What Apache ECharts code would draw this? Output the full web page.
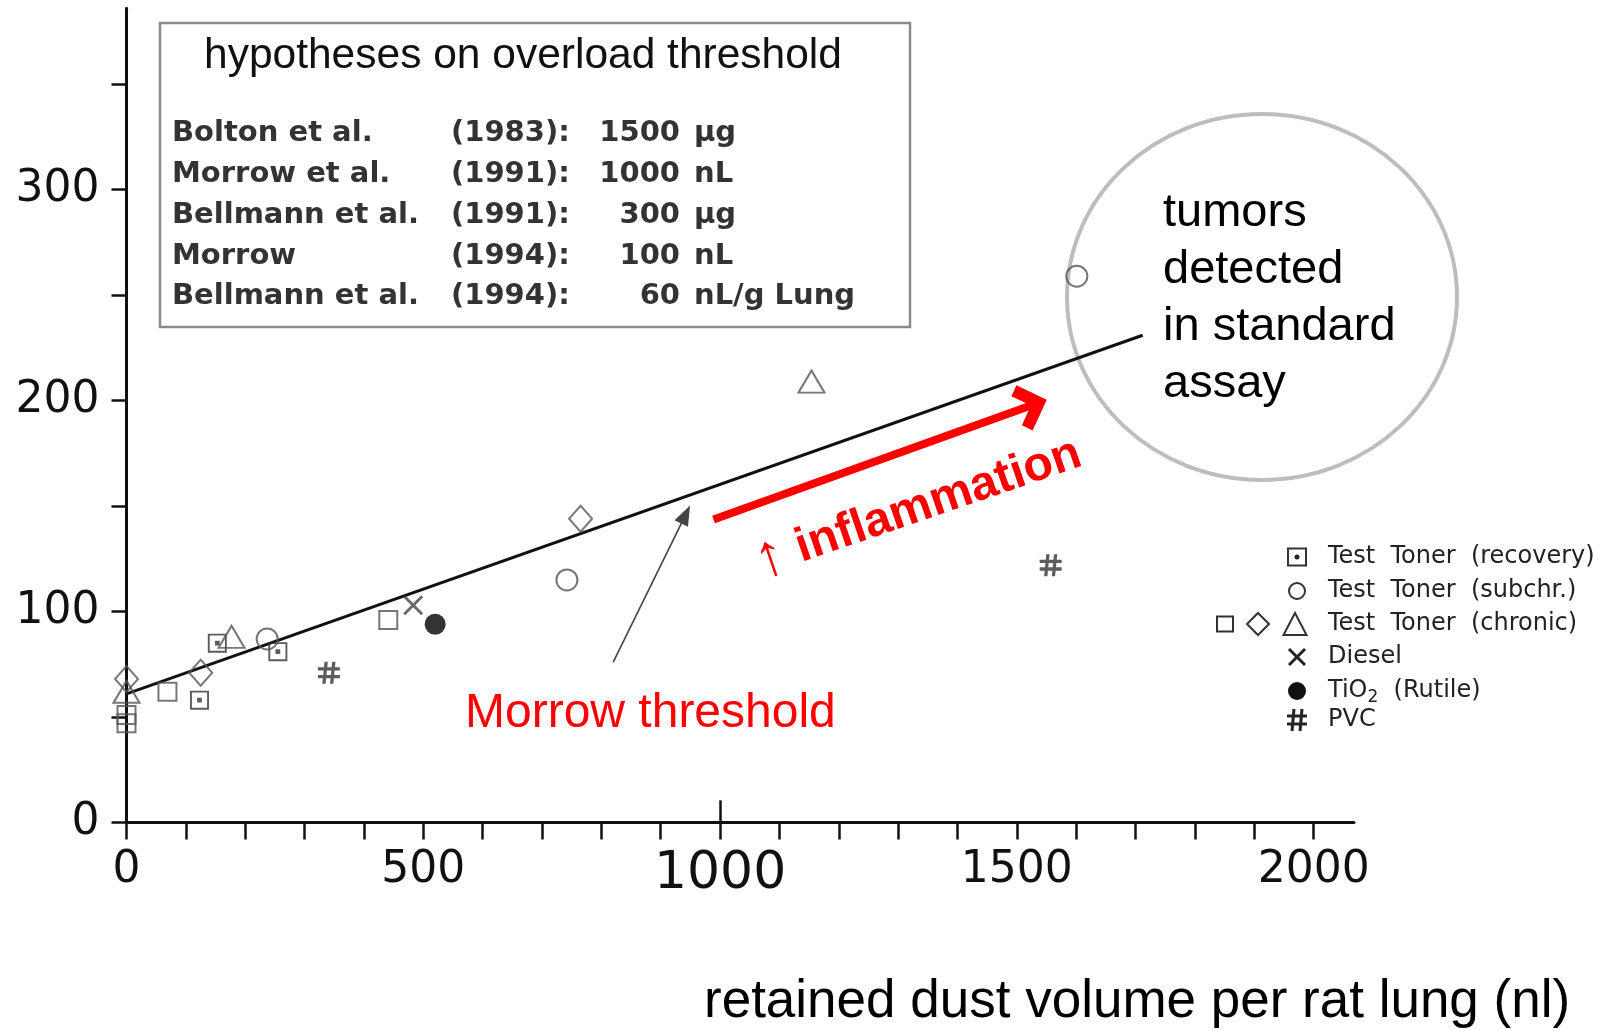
<!DOCTYPE html>
<html>
<head>
<meta charset="utf-8">
<title>overload threshold</title>
<script src="https://cdn.jsdelivr.net/npm/echarts@6.0.0/dist/echarts.min.js"></script>
<style>
  html, body { margin: 0; padding: 0; background: #fff; }
  #chart { width: 1616px; height: 1030px; }
</style>
</head>
<body>
<div id="chart"></div>
<script>
// values (x = retained dust volume per lung, nl)
const fitLine = [[0, 61], [1712, 231]];
const recoveryPts = [[123, 58], [153, 85], [255, 81]];
const subchronicPts = [[237, 87], [742, 115], [1601, 259]];
const chronicSquares = [[0, 51], [0, 47], [69, 62], [441, 96]];
const chronicDiamonds = [[0, 68], [125, 71], [765, 144]];
const chronicTriangles = [[0, 62], [177, 88], [1154, 209]];
const dieselPts = [[483, 103]];
const tio2Pts = [[520, 94]];
const pvcPts = [[341, 71], [1557, 122]];

// annotation arrows, in data units
const morrowArrow = [[820, 76], [942, 146]];
const inflammationArrow = [[989, 143.6], [1525, 197.8]];

const xTicks = [0, 100, 200, 300, 400, 500, 600, 700, 800, 900, 1000, 1100, 1200, 1300, 1400, 1500, 1600, 1700, 1800, 1900, 2000];
const xLabels = [0, 500, 1000, 1500, 2000];
const yTicks = [0, 50, 100, 150, 200, 250, 300, 350];
const yLabels = [0, 100, 200, 300];

const hypNames = ['Bolton et al.', 'Morrow et al.', 'Bellmann et al.', 'Morrow', 'Bellmann et al.'];
const hypYears = ['(1983):', '(1991):', '(1991):', '(1994):', '(1994):'];
const hypValues = ['1500', '1000', '300', '100', '60'];
const hypUnits = ['µg', 'nL', 'µg', 'nL', 'nL/g Lung'];

const legendRows = [
  { label: '{n|Test  Toner  (recovery)}', icons: ['recovery'] },
  { label: '{n|Test  Toner  (subchr.)}', icons: ['circle'] },
  { label: '{n|Test  Toner  (chronic)}', icons: ['square', 'diamond', 'triangle'] },
  { label: '{n|Diesel}', icons: ['cross'] },
  { label: '{n|TiO}{s|2}{n|  (Rutile)}', icons: ['dot'] },
  { label: '{n|PVC}', icons: ['hash'] }
];

const INK = '#111';
const MARK = '#555';
const RECOVERY_PATH = 'path://M0,0 L20,0 L20,20 L0,20 Z M2,2 L2,18 L18,18 L18,2 Z M7.5,7.5 L12.5,7.5 L12.5,12.5 L7.5,12.5 Z';
const CROSS_PATH = 'path://M2,0 L10,8 L18,0 L20,2 L12,10 L20,18 L18,20 L10,12 L2,20 L0,18 L8,10 L0,2 Z';
const HASH_PATH = 'path://M6,0 L9,0 L7,20 L4,20 Z M13,0 L16,0 L14,20 L11,20 Z M0,5 L20,5 L20,8 L0,8 Z M0,12 L20,12 L20,15 L0,15 Z';
const CHEVRON_PATH = 'path://M0,14 L14,0 L28,14 L23,19 L14,10 L5,19 Z';

const chart = echarts.init(document.getElementById('chart'));

function openStyle(w) {
  return { color: 'rgba(0,0,0,0)', borderColor: MARK, borderWidth: w || 2 };
}

function scatter(name, data, symbol, size, itemStyle) {
  return {
    name: name, type: 'scatter', data: data, symbol: symbol, symbolSize: size,
    itemStyle: itemStyle, z: 3, silent: true
  };
}

// legend drawn by hand: one row carries three symbols
function legendIcon(kind, cx, cy) {
  const st = { fill: 'none', stroke: '#333', lineWidth: 2 };
  switch (kind) {
    case 'recovery':
      return [
        { type: 'rect', shape: { x: cx - 9, y: cy - 8.5, width: 18, height: 17 }, style: st },
        { type: 'circle', shape: { cx: cx, cy: cy, r: 2.5 }, style: { fill: '#222' } }
      ];
    case 'circle':
      return [{ type: 'circle', shape: { cx: cx, cy: cy, r: 8 }, style: st }];
    case 'square':
      return [{ type: 'rect', shape: { x: cx - 8, y: cy - 7.5, width: 16, height: 15 }, style: st }];
    case 'diamond':
      return [{ type: 'polygon', shape: { points: [[cx, cy - 11], [cx + 11, cy], [cx, cy + 11], [cx - 11, cy]] }, style: st }];
    case 'triangle':
      return [{ type: 'polygon', shape: { points: [[cx, cy - 11], [cx + 11.5, cy + 11], [cx - 11.5, cy + 11]] }, style: st }];
    case 'cross':
      return [
        { type: 'line', shape: { x1: cx - 8, y1: cy - 8, x2: cx + 8, y2: cy + 8 }, style: { stroke: '#222', lineWidth: 3 } },
        { type: 'line', shape: { x1: cx + 8, y1: cy - 8, x2: cx - 8, y2: cy + 8 }, style: { stroke: '#222', lineWidth: 3 } }
      ];
    case 'dot':
      return [{ type: 'circle', shape: { cx: cx, cy: cy, r: 9 }, style: { fill: '#111' } }];
    case 'hash':
      return [
        { type: 'line', shape: { x1: cx - 3, y1: cy - 11, x2: cx - 5, y2: cy + 11 }, style: { stroke: '#222', lineWidth: 3 } },
        { type: 'line', shape: { x1: cx + 5, y1: cy - 11, x2: cx + 3, y2: cy + 11 }, style: { stroke: '#222', lineWidth: 3 } },
        { type: 'line', shape: { x1: cx - 10, y1: cy - 4, x2: cx + 10, y2: cy - 4 }, style: { stroke: '#222', lineWidth: 3 } },
        { type: 'line', shape: { x1: cx - 10, y1: cy + 4, x2: cx + 10, y2: cy + 4 }, style: { stroke: '#222', lineWidth: 3 } }
      ];
  }
  return [];
}

function buildLegend() {
  const rowY = [557, 591, 624, 657, 691, 720];
  const out = [];
  legendRows.forEach(function (row, i) {
    const y = rowY[i];
    const xs = row.icons.length === 3 ? [1225, 1258, 1295] : [1297];
    row.icons.forEach(function (k, j) {
      legendIcon(k, xs[j], y).forEach(function (e) { out.push(e); });
    });
    out.push({
      type: 'text', x: 1328, y: y,
      style: {
        text: row.label, align: 'left', verticalAlign: 'middle', fill: '#222',
        rich: {
          n: { fontFamily: 'DejaVu Sans', fontSize: 24, lineHeight: 30, fill: '#222' },
          s: { fontFamily: 'DejaVu Sans', fontSize: 17, lineHeight: 17, verticalAlign: 'bottom', fill: '#222' }
        }
      }
    });
  });
  return out;
}

function buildBox() {
  const out = [
    { type: 'rect', shape: { x: 160, y: 23, width: 750, height: 304 },
      style: { fill: '#fff', stroke: '#8a8a8a', lineWidth: 2.5 }, z: 1 },
    { type: 'text', x: 204, y: 56, z: 2,
      style: { text: 'hypotheses on overload threshold', fontFamily: 'Liberation Sans', fontSize: 42.5,
        fill: INK, align: 'left', verticalAlign: 'middle' } }
  ];
  const rowY = [133, 174, 215, 256, 296];
  const font = { fontFamily: 'DejaVu Sans', fontWeight: 'bold', fontSize: 29, fill: '#333', verticalAlign: 'middle' };
  hypNames.forEach(function (nm, i) {
    const y = rowY[i];
    out.push({ type: 'text', x: 172, y: y, z: 2, style: Object.assign({ text: nm, align: 'left' }, font) });
    out.push({ type: 'text', x: 451, y: y, z: 2, style: Object.assign({ text: hypYears[i], align: 'left' }, font) });
    out.push({ type: 'text', x: 680, y: y, z: 2, style: Object.assign({ text: hypValues[i], align: 'right' }, font) });
    out.push({ type: 'text', x: 694, y: y, z: 2, style: Object.assign({ text: hypUnits[i], align: 'left' }, font) });
  });
  return out;
}

const graphics = [].concat(
  buildBox(),
  [
    { type: 'ellipse', shape: { cx: 1262, cy: 297, rx: 195, ry: 183 },
      style: { fill: 'none', stroke: '#bdbdbd', lineWidth: 4 }, z: 1 },
    { type: 'text', x: 1163, y: 299, z: 2,
      style: { text: 'tumors\ndetected\nin standard\nassay', fontFamily: 'Liberation Sans', fontSize: 47,
        lineHeight: 57, fill: '#000', align: 'left', verticalAlign: 'middle' } },
    { type: 'text', x: 465, y: 714, z: 2,
      style: { text: 'Morrow threshold', fontFamily: 'Liberation Sans', fontSize: 48,
        fill: '#ff0000', align: 'left', verticalAlign: 'middle' } },
    { type: 'text', x: 918, y: 508, rotation: 0.33, z: 2,
      style: {
        text: '{a|↑}{b| inflammation}', align: 'center', verticalAlign: 'middle',
        rich: {
          a: { fontFamily: 'Liberation Sans', fontWeight: 'bold', fontSize: 60, lineHeight: 60, fill: '#ff0000' },
          b: { fontFamily: 'Liberation Sans', fontWeight: 'bold', fontSize: 48, lineHeight: 60, fill: '#ff0000' }
        }
      } },
    { type: 'text', x: 704, y: 1002, z: 2,
      style: { text: 'retained dust volume per rat lung (nl)', fontFamily: 'Liberation Sans', fontSize: 53,
        fill: '#000', align: 'left', verticalAlign: 'middle' } }
  ],
  buildLegend()
);

chart.setOption({
  animation: false,
  backgroundColor: '#fff',
  grid: { left: 126.5, right: 262, top: 8.3, bottom: 207.5, outerBoundsMode: 'none' },
  xAxis: {
    type: 'value', min: 0, max: 2068,
    axisLine: { show: true, onZero: false, lineStyle: { color: INK, width: 3 } },
    axisTick: { show: true, length: 17, customValues: xTicks, lineStyle: { color: INK, width: 2.5 } },
    axisLabel: {
      customValues: xLabels, margin: 26, color: INK, fontFamily: 'DejaVu Sans', fontSize: 44,
      formatter: function (v) { return v === 1000 ? '{big|1000}' : String(v); },
      rich: { big: { fontFamily: 'DejaVu Sans', fontSize: 52, color: INK } }
    },
    splitLine: { show: false }
  },
  yAxis: {
    type: 'value', min: 0, max: 386,
    axisLine: { show: true, onZero: false, lineStyle: { color: INK, width: 3 } },
    axisTick: { show: true, length: 15, customValues: yTicks, lineStyle: { color: INK, width: 2.5 } },
    axisLabel: { customValues: yLabels, margin: 27, color: INK, fontFamily: 'DejaVu Sans', fontSize: 44 },
    splitLine: { show: false }
  },
  graphic: graphics,
  series: [
    {
      name: 'fit', type: 'line', data: fitLine, symbol: 'none', silent: true, z: 2,
      lineStyle: { color: INK, width: 3 },
      markLine: {
        silent: true, animation: false, label: { show: false },
        data: [
          [
            { coord: morrowArrow[0], symbol: 'none', lineStyle: { color: '#444', width: 1.6, type: 'solid' } },
            { coord: morrowArrow[1], symbol: 'triangle', symbolSize: [15, 20], lineStyle: { color: '#444', width: 1.6, type: 'solid' } }
          ],
          [
            { coord: inflammationArrow[0], symbol: 'none', lineStyle: { color: '#ff0000', width: 8, type: 'solid' } },
            { coord: inflammationArrow[1], symbol: CHEVRON_PATH, symbolSize: [48, 32], lineStyle: { color: '#ff0000', width: 8, type: 'solid' } }
          ],
          [
            { coord: [1000, 0], symbol: 'none', lineStyle: { color: INK, width: 2.5, type: 'solid' } },
            { coord: [1000, 10.5], symbol: 'none', lineStyle: { color: INK, width: 2.5, type: 'solid' } }
          ]
        ]
      }
    },
    scatter('Test Toner (recovery)', recoveryPts, RECOVERY_PATH, 19, { color: '#333' }),
    scatter('Test Toner (subchr.)', subchronicPts, 'circle', 21, openStyle(2)),
    scatter('Test Toner (chronic) square', chronicSquares, 'rect', 18, openStyle(2)),
    scatter('Test Toner (chronic) diamond', chronicDiamonds, 'diamond', [23, 26], openStyle(2)),
    scatter('Test Toner (chronic)', chronicTriangles, 'triangle', [26, 22], openStyle(2)),
    scatter('Diesel', dieselPts, CROSS_PATH, 20, { color: '#444' }),
    scatter('TiO2 (Rutile)', tio2Pts, 'circle', 21, { color: '#000' }),
    scatter('PVC', pvcPts, HASH_PATH, 22, { color: '#333' })
  ]
});
</script>
</body>
</html>
